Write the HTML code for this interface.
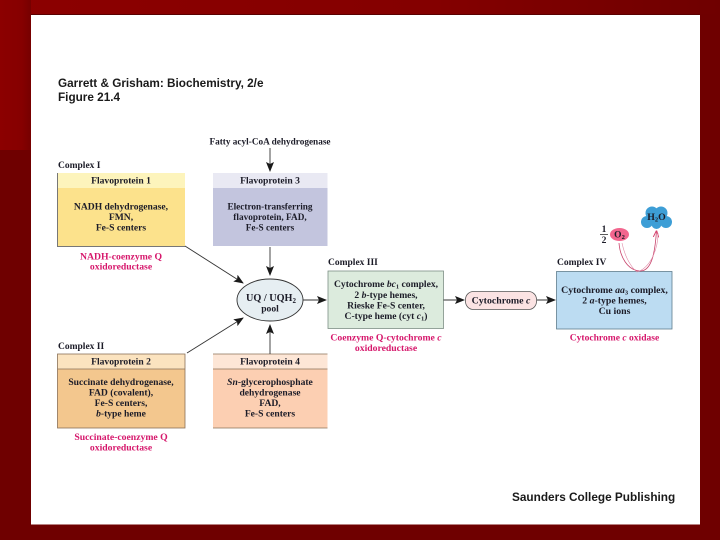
<!DOCTYPE html>
<html><head><meta charset="utf-8"><style>
html,body{margin:0;padding:0;width:720px;height:540px;overflow:hidden;background:#6f0000}
svg{display:block}
text{filter:blur(.25px)}
.s{font-family:"Liberation Serif",serif;font-size:9.6px;fill:#1c1c28;text-anchor:middle;font-weight:bold}
.h{font-family:"Liberation Sans",sans-serif;font-weight:bold;fill:#1a1a1a}
.c{font-family:"Liberation Serif",serif;font-size:9.5px;font-weight:bold;fill:#1c1c28}
.m{font-family:"Liberation Serif",serif;font-size:9.7px;font-weight:bold;fill:#d6186c;text-anchor:middle}
.l{stroke:#333;stroke-width:.9;fill:none}
.e{stroke:#777;stroke-width:1}
</style></head><body>
<svg width="720" height="540" viewBox="0 0 720 540" xmlns="http://www.w3.org/2000/svg">
<defs>
<linearGradient id="top" x1="0" x2="1" y1="0" y2="0"><stop offset="0" stop-color="#8c0000"/><stop offset=".6" stop-color="#840000"/><stop offset="1" stop-color="#6f0000"/></linearGradient>
<linearGradient id="side" x1="0" x2="1" y1="0" y2="0"><stop offset="0" stop-color="#8c0000"/><stop offset=".7" stop-color="#860000"/><stop offset="1" stop-color="#760000"/></linearGradient>
<marker id="a" viewBox="0 0 10 8" refX="9" refY="4" markerWidth="11" markerHeight="8" markerUnits="userSpaceOnUse" orient="auto"><path d="M0 0L10 4L0 8L2 4Z" fill="#1a1a1a"/></marker>
<marker id="p" viewBox="0 0 10 8" refX="9" refY="4" markerWidth="7" markerHeight="6" markerUnits="userSpaceOnUse" orient="auto"><path d="M0 0L10 4L0 8" fill="none" stroke="#d6406c" stroke-width="1.4"/></marker>
</defs>
<rect width="720" height="540" fill="#6f0000"/>
<rect width="720" height="14" fill="url(#top)"/>
<rect y="0" width="31" height="150" fill="url(#side)"/>
<rect x="31" y="14" width="669" height="1" fill="#5a0000"/>
<rect x="31" y="15" width="669" height="509.500" fill="#fff"/>

<text class="h" x="58" y="87" font-size="11.750">Garrett &amp; Grisham: Biochemistry, 2/e</text>
<text class="h" x="58" y="101" font-size="11.750">Figure 21.4</text>
<text class="h" x="512" y="501" font-size="11.800">Saunders College Publishing</text>

<text class="s" x="270" y="144.500" style="font-size:9.25px">Fatty acyl-CoA dehydrogenase</text>
<line class="l" x1="270" y1="148" x2="270" y2="171" marker-end="url(#a)"/>
<text class="c" x="58" y="168">Complex I</text>

<!-- Flavoprotein 1 -->
<rect x="57.500" y="173" width="127.500" height="73" fill="#fce28c"/>
<rect x="57.500" y="173" width="127.500" height="15" fill="#fdf4bc"/>
<line class="e" x1="57.500" y1="173" x2="57.500" y2="246"/><line class="e" x1="57" y1="246.500" x2="185" y2="246.500"/>
<text class="s" x="121" y="183.500">Flavoprotein 1</text>
<text class="s" x="121" y="209.500">NADH dehydrogenase,</text>
<text class="s" x="121" y="220">FMN,</text>
<text class="s" x="121" y="230.500">Fe-S centers</text>
<text class="m" x="121" y="259.500">NADH-coenzyme Q</text>
<text class="m" x="121" y="269.500">oxidoreductase</text>

<!-- Flavoprotein 3 -->
<rect x="213" y="173" width="114.500" height="73" fill="#c3c5de"/>
<rect x="213" y="173" width="114.500" height="15" fill="#e9e9f3"/>
<text class="s" x="270" y="183.500">Flavoprotein 3</text>
<text class="s" x="270" y="209.500" style="font-size:9.25px">Electron-transferring</text>
<text class="s" x="270" y="220" style="font-size:9.25px">flavoprotein, FAD,</text>
<text class="s" x="270" y="230.500" style="font-size:9.25px">Fe-S centers</text>

<!-- Flavoprotein 2 -->
<text class="c" x="58" y="349">Complex II</text>
<rect x="57.500" y="354" width="127.500" height="74" fill="#f3c78e"/>
<rect x="57.500" y="354" width="127.500" height="15" fill="#fbe3bf"/>
<rect x="57.500" y="354" width="127.500" height="74" fill="none" stroke="#8a7058" stroke-width=".8"/>
<line x1="57.500" y1="369" x2="185" y2="369" stroke="#8a7058" stroke-width=".8"/>
<text class="s" x="121" y="364.500">Flavoprotein 2</text>
<text class="s" x="121" y="385">Succinate dehydrogenase,</text>
<text class="s" x="121" y="395.500">FAD (covalent),</text>
<text class="s" x="121" y="406">Fe-S centers,</text>
<text class="s" x="121" y="416.500"><tspan font-style="italic">b</tspan>-type heme</text>
<text class="m" x="121" y="440">Succinate-coenzyme Q</text>
<text class="m" x="121" y="450.500">oxidoreductase</text>

<!-- Flavoprotein 4 -->
<rect x="213" y="354" width="114.500" height="74" fill="#fccfb2"/>
<rect x="213" y="354" width="114.500" height="15" fill="#fde6d6"/>
<line x1="213" y1="354" x2="327.500" y2="354" stroke="#8a7058" stroke-width=".8"/>
<line x1="213" y1="369" x2="327.500" y2="369" stroke="#8a7058" stroke-width=".8"/>
<line x1="213" y1="428" x2="327.500" y2="428" stroke="#8a7058" stroke-width=".8"/>
<text class="s" x="270" y="364.500">Flavoprotein 4</text>
<text class="s" x="270" y="385"><tspan font-style="italic">Sn</tspan>-glycerophosphate</text>
<text class="s" x="270" y="395.500">dehydrogenase</text>
<text class="s" x="270" y="406">FAD,</text>
<text class="s" x="270" y="416.500">Fe-S centers</text>

<!-- Ellipse + arrows -->
<line class="l" x1="270" y1="247" x2="270" y2="275" marker-end="url(#a)"/>
<line class="l" x1="270" y1="354" x2="270" y2="325" marker-end="url(#a)"/>
<line class="l" x1="185" y1="246" x2="243" y2="283" marker-end="url(#a)"/>
<line class="l" x1="187" y1="353" x2="243" y2="318" marker-end="url(#a)"/>
<ellipse cx="270" cy="300" rx="33" ry="21" fill="#e6eef2" stroke="#333" stroke-width=".9"/>
<text class="s" x="271" y="301" style="font-size:10.2px">UQ / UQH<tspan font-size="7" dy="2">2</tspan></text>
<text class="s" x="270" y="311.500">pool</text>
<line class="l" x1="303" y1="300" x2="326" y2="300" marker-end="url(#a)"/>

<!-- Complex III -->
<text class="c" x="328" y="265">Complex III</text>
<rect x="328" y="271" width="115.500" height="57.500" fill="#dcebdd" stroke="#7d8f85" stroke-width=".8"/>
<text class="s" x="386" y="287">Cytochrome <tspan font-style="italic">bc</tspan><tspan font-size="6.500" dy="1.500">1</tspan><tspan dy="-1.500"> complex,</tspan></text>
<text class="s" x="386" y="298">2 <tspan font-style="italic">b</tspan>-type hemes,</text>
<text class="s" x="386" y="308.500">Rieske Fe-S center,</text>
<text class="s" x="386" y="319">C-type heme (cyt <tspan font-style="italic">c</tspan><tspan font-size="6.500" dy="1.500">1</tspan><tspan dy="-1.500">)</tspan></text>
<text class="m" x="386" y="340.500">Coenzyme Q-cytochrome <tspan font-style="italic">c</tspan></text>
<text class="m" x="386" y="351">oxidoreductase</text>
<line class="l" x1="443.500" y1="300" x2="464" y2="300" marker-end="url(#a)"/>

<!-- Cytochrome c -->
<rect x="465.500" y="291.500" width="71" height="18" rx="8" fill="#fbe3e3" stroke="#555" stroke-width=".8"/>
<text class="s" x="501" y="303.500" style="font-size:9.9px">Cytochrome <tspan font-style="italic">c</tspan></text>
<line class="l" x1="537" y1="300" x2="555" y2="300" marker-end="url(#a)"/>

<!-- Complex IV -->
<text class="c" x="557" y="265">Complex IV</text>
<rect x="556.500" y="271.500" width="115.500" height="57.500" fill="#bcdcf2" stroke="#5f7d8c" stroke-width=".8"/>
<text class="s" x="614.500" y="293" style="font-size:9.8px">Cytochrome <tspan font-style="italic">aa</tspan><tspan font-size="6.500" dy="1.500">3</tspan><tspan dy="-1.500"> complex,</tspan></text>
<text class="s" x="614.500" y="303.500" style="font-size:9.8px">2 <tspan font-style="italic">a</tspan>-type hemes,</text>
<text class="s" x="614.500" y="314" style="font-size:9.8px">Cu ions</text>
<text class="m" x="614.500" y="340.500" style="font-size:9.55px">Cytochrome <tspan font-style="italic">c</tspan> oxidase</text>

<!-- O2 / H2O -->
<text class="s" x="604" y="232">1</text>
<line x1="600" y1="234.500" x2="608" y2="234.500" stroke="#333" stroke-width=".8"/>
<text class="s" x="604" y="243">2</text>
<ellipse cx="619.500" cy="234.500" rx="9.500" ry="6.500" fill="#f2668e"/>
<text class="s" x="619.500" y="237.500" style="font-size:9.5px">O<tspan font-size="6.500" dy="1.500">2</tspan></text>
<g fill="#3d9ed6">
<circle cx="652" cy="213" r="6.500"/><circle cx="661" cy="213" r="6.500"/>
<circle cx="647" cy="222" r="6"/><circle cx="666" cy="222" r="6"/>
<rect x="648" y="212" width="17" height="12"/>
<circle cx="656.500" cy="224" r="5"/>
</g>
<text class="s" x="656.500" y="220" style="font-size:9.8px">H<tspan font-size="6.500" dy="1.500">2</tspan><tspan dy="-1.500">O</tspan></text>
<path d="M619 243C620 256 627 271 641 271C652 270 655 252 656.500 231" fill="none" stroke="#c8446c" stroke-width=".8" marker-end="url(#p)"/>
<path d="M622 243C625 258 632 268 637 272C650 268 658 250 658 233" fill="none" stroke="#e08aa6" stroke-width=".6"/>
</svg>
</body></html>
